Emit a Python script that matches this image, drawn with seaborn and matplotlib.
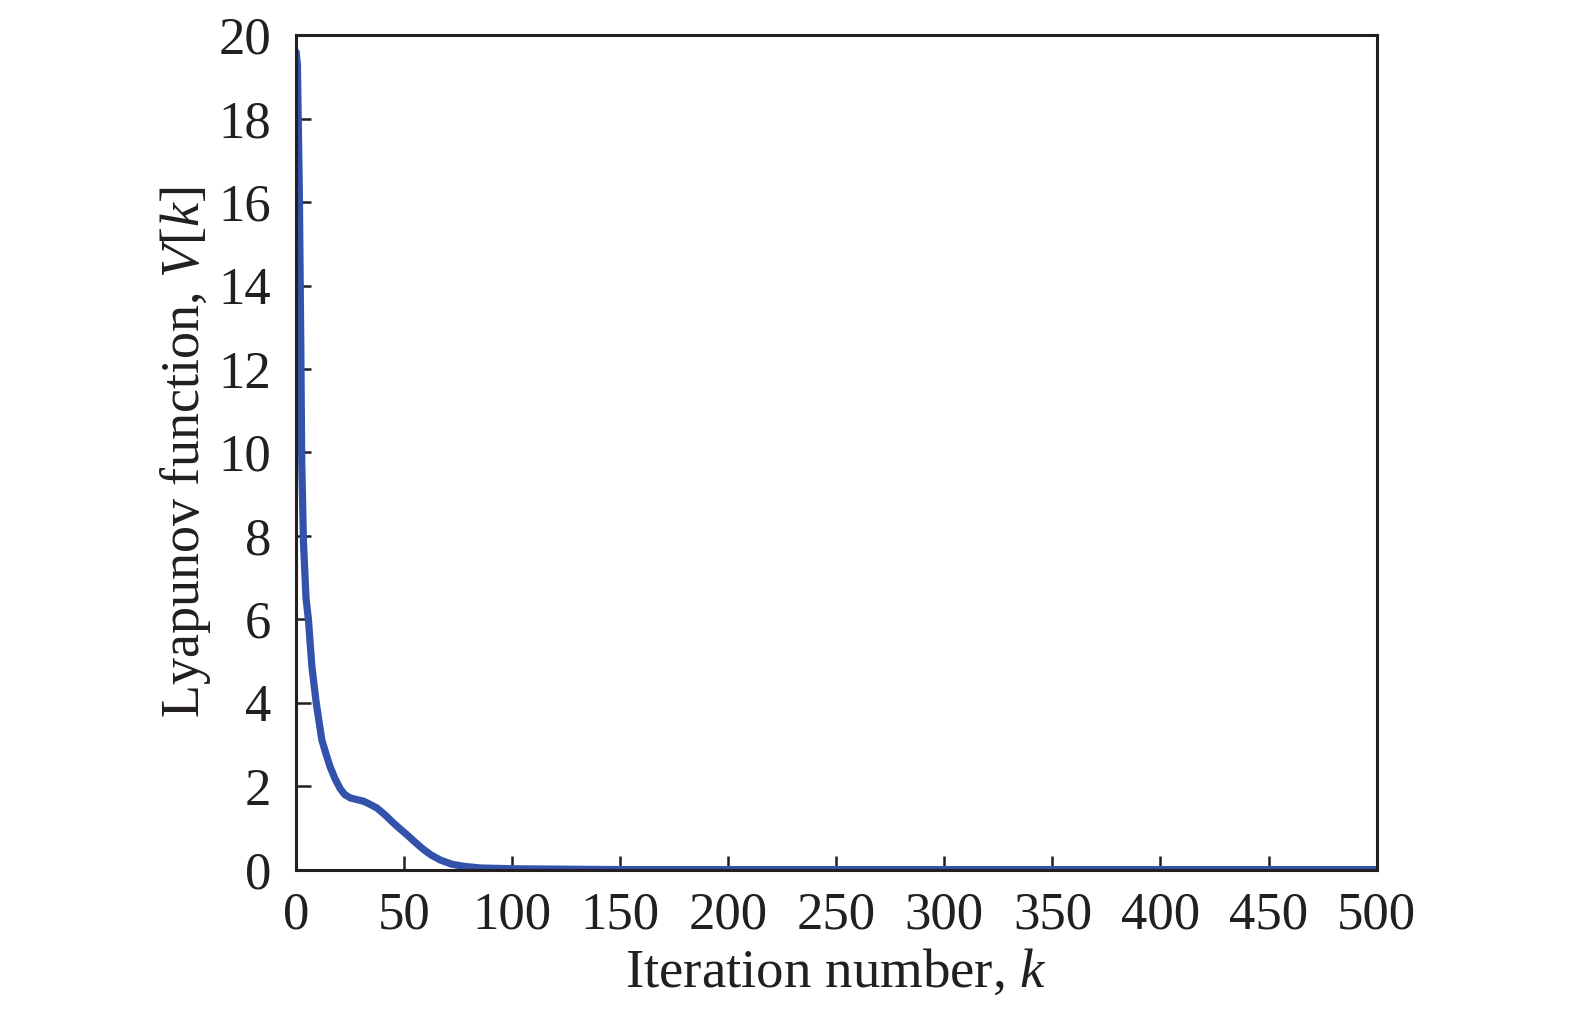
import matplotlib.pyplot as plt
import seaborn as sns
import pandas as pd

sns.set_style("ticks")

# values
iteration = [0, 0.6, 1.5, 2.2, 2.6, 3.4, 4.6, 5.7, 7.3, 9.3, 11.9, 13.8, 15.7, 18, 20.4, 22.5,
             25, 28, 31.2, 34, 37.3, 41, 45, 48, 51.2, 55, 58.8, 62.5, 66.7, 72, 77.5, 85,
             100, 150, 200, 300, 400, 500]
lyapunov = [19.6, 19.3, 16.25, 12.4, 9.8, 7.86, 6.5, 6.0, 4.87, 4.0, 3.11, 2.78, 2.47, 2.18, 1.94, 1.8,
            1.72, 1.68, 1.64, 1.57, 1.48, 1.32, 1.12, 0.98, 0.84, 0.66, 0.49, 0.35, 0.23, 0.13, 0.08, 0.04,
            0.02, 0.0, 0.0, 0.0, 0.0, 0.0]

plt.rcParams['font.family'] = ['Liberation Serif', 'DejaVu Serif']
plt.rcParams['mathtext.fontset'] = 'custom'
plt.rcParams['mathtext.rm'] = 'Liberation Serif'
plt.rcParams['mathtext.it'] = 'Liberation Serif:italic'

df = pd.DataFrame({"k": iteration, "V": lyapunov})

fig = plt.figure(figsize=(15.75, 10.1), dpi=100)
ax = fig.add_axes([0.188, 0.139, 0.686, 0.826])
sns.lineplot(data=df, x="k", y="V", ax=ax, color="#3352ab", linewidth=5.2)

ax.set_xlim(0, 500)
ax.set_ylim(0, 20)
ax.set_xticks(range(0, 501, 50))
ax.set_yticks(range(0, 21, 2))
ax.tick_params(direction="in", length=10, width=1.8, labelsize=38, colors="#231f20")
ax.tick_params(axis="x", pad=16)
ax.tick_params(axis="y", length=11, pad=18)
for s in ax.spines.values():
    s.set_linewidth(2.2)
    s.set_color("#231f20")
ax.set_xlabel("Iteration number, $k$", fontsize=39.5, color="#231f20", labelpad=6)
ax.set_ylabel("Lyapunov function, $V[k]$", fontsize=39, color="#231f20", labelpad=4)

plt.savefig("out.png", dpi=100)
